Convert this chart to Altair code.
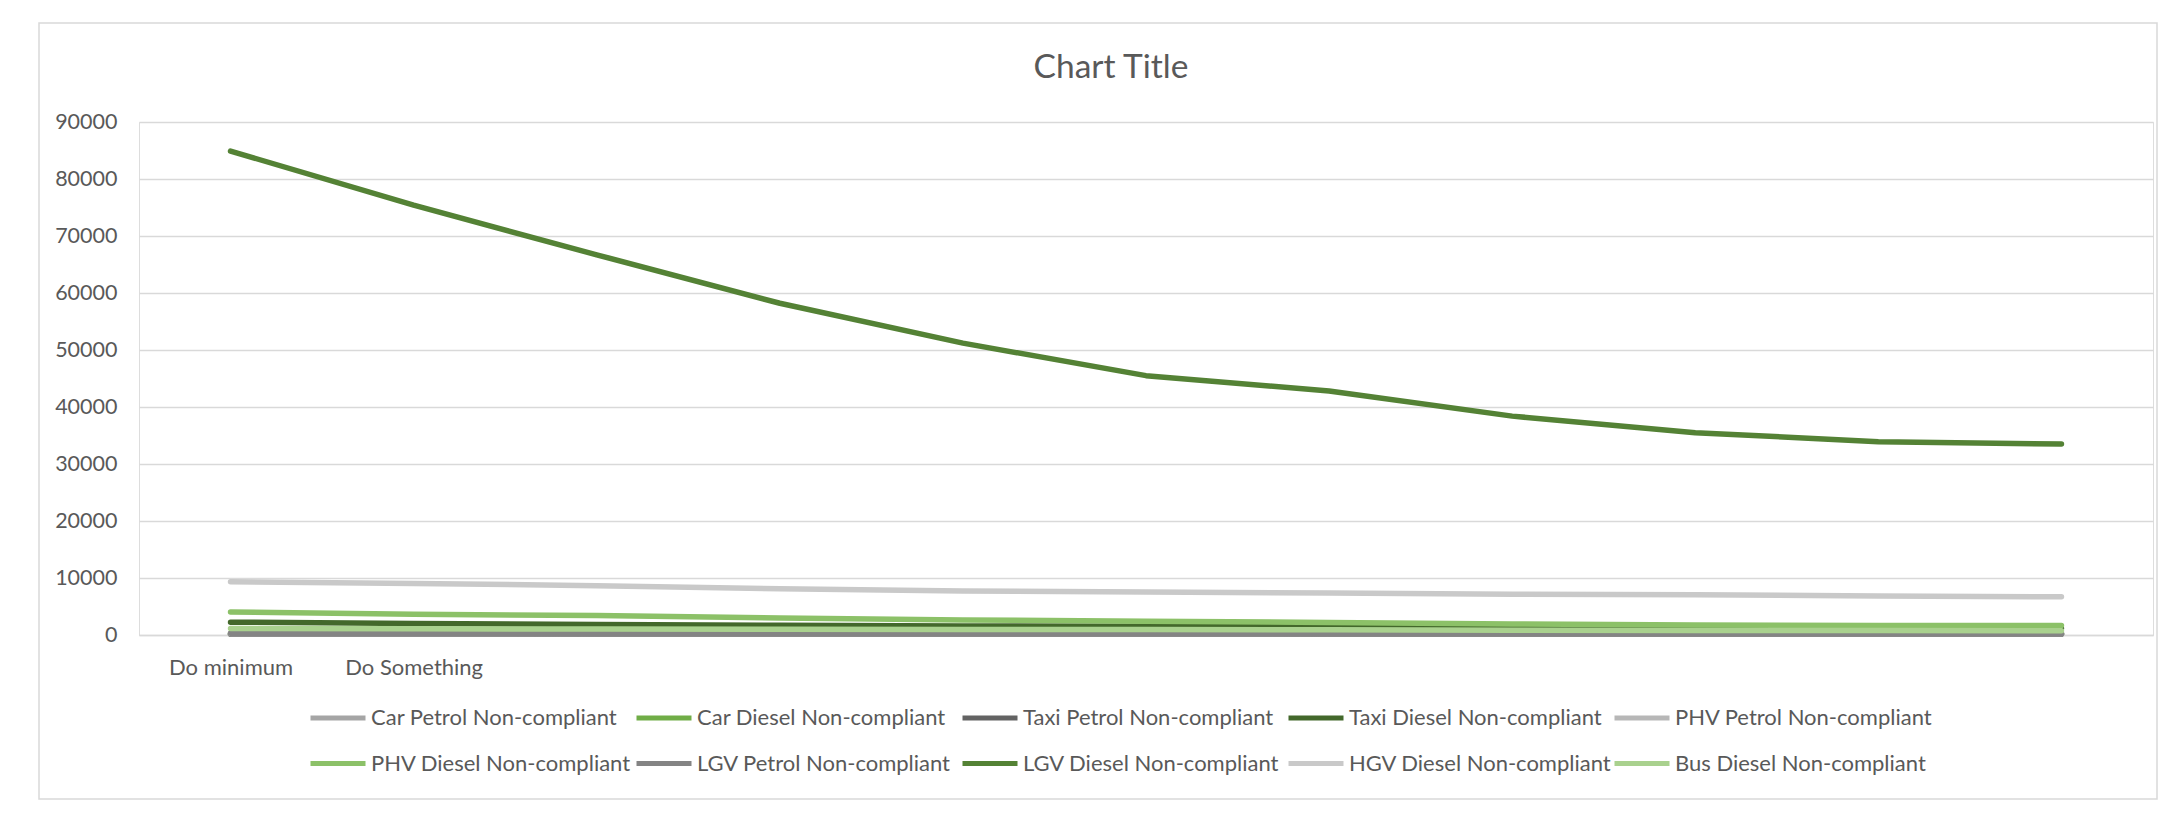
import altair as alt
import pandas as pd

categories = ["Do minimum", "Do Something", "c3", "c4", "c5", "c6", "c7", "c8", "c9", "c10", "c11"]
shown_labels = ["Do minimum", "Do Something"]

series_names = [
    "Car Petrol Non-compliant",
    "Car Diesel Non-compliant",
    "Taxi Petrol Non-compliant",
    "Taxi Diesel Non-compliant",
    "PHV Petrol Non-compliant",
    "PHV Diesel Non-compliant",
    "LGV Petrol Non-compliant",
    "LGV Diesel Non-compliant",
    "HGV Diesel Non-compliant",
    "Bus Diesel Non-compliant",
]
series_colors = [
    "#A5A5A5", "#70AD47", "#636363", "#43682B", "#B7B7B7",
    "#8CC168", "#848484", "#548235", "#C9C9C9", "#A9D18E",
]

car_petrol = [200, 200, 200, 200, 200, 200, 200, 200, 200, 200, 200]
car_diesel = [200, 200, 200, 200, 200, 200, 200, 200, 200, 200, 200]
taxi_petrol = [150, 150, 150, 150, 150, 150, 150, 150, 150, 150, 150]
taxi_diesel = [2250, 2000, 1850, 1700, 1600, 1550, 1450, 1350, 1250, 1200, 1150]
phv_petrol = [200, 200, 200, 200, 200, 200, 200, 200, 200, 200, 200]
phv_diesel = [4050, 3650, 3400, 3000, 2650, 2400, 2200, 1950, 1750, 1650, 1650]
lgv_petrol = [300, 300, 280, 270, 260, 250, 240, 230, 220, 210, 200]
lgv_diesel = [84900, 75400, 66700, 58200, 51200, 45500, 42800, 38400, 35500, 33900, 33500]
hgv_diesel = [9350, 9050, 8650, 8100, 7700, 7550, 7350, 7150, 7050, 6850, 6700]
bus_diesel = [1150, 1100, 1050, 1000, 950, 950, 900, 850, 800, 800, 750]

all_series = [car_petrol, car_diesel, taxi_petrol, taxi_diesel, phv_petrol,
              phv_diesel, lgv_petrol, lgv_diesel, hgv_diesel, bus_diesel]

rows = []
for s_idx, (name, vals) in enumerate(zip(series_names, all_series)):
    for c, v in zip(categories, vals):
        rows.append({"series": name, "category": c, "value": v, "sidx": s_idx})
df = pd.DataFrame(rows)

FONT = "Lato"
TXT = "#595959"
GRID = "#D9D9D9"

label_expr = "indexof(" + str(shown_labels) + ", datum.value) >= 0 ? datum.label : ''"

lines = alt.Chart(df).mark_line(strokeWidth=5.5, strokeCap="round", strokeJoin="round").encode(
    x=alt.X(
        "category:N",
        sort=categories,
        scale=alt.Scale(type="point", padding=0.5),
        axis=alt.Axis(
            title=None, labelExpr=label_expr, labelAngle=0, ticks=False,
            domainColor=GRID, domainWidth=1.5, labelPadding=22,
            labelFontSize=22, labelFont=FONT, labelColor=TXT, grid=False,
        ),
    ),
    y=alt.Y(
        "value:Q",
        scale=alt.Scale(domain=[0, 90000], nice=False),
        axis=alt.Axis(
            title=None, values=list(range(0, 90001, 10000)), ticks=False, domain=False,
            labelPadding=22, labelFontSize=21.5, labelFont=FONT, labelColor=TXT,
            gridColor=GRID, gridWidth=1.5, format="d",
        ),
    ),
    color=alt.Color(
        "series:N",
        sort=series_names,
        scale=alt.Scale(domain=series_names, range=series_colors),
        legend=alt.Legend(
            title=None, orient="none", legendX=169, legendY=566, columns=5,
            direction="horizontal",
            symbolType="stroke", symbolSize=3025, symbolStrokeWidth=5,
            labelFontSize=22, labelFont=FONT, labelColor=TXT, labelOffset=3,
            columnPadding=-10, rowPadding=4.5, gridAlign="all", labelLimit=0, padding=0,
        ),
    ),
    order=alt.Order("sidx:Q"),
)

frame = alt.Chart(pd.DataFrame({"a": [0]})).mark_rect(
    filled=False, stroke=GRID, strokeWidth=1.5
).encode(
    x=alt.value(-100), x2=alt.value(2018), y=alt.value(-99), y2=alt.value(677)
)

chart = alt.layer(frame, lines).properties(
    width=2014,
    height=513,
    title=alt.TitleParams(
        text="Chart Title", fontSize=33.5, font=FONT, color=TXT, fontWeight="normal",
        anchor="middle", frame="group", dx=-35, offset=0, dy=89, baseline="alphabetic",
    ),
    autosize=alt.AutoSizeParams(type="none"),
    padding={"left": 131, "top": 114, "right": 6, "bottom": 168},
).configure_view(stroke=None).configure(background="white")

chart.save("out.html", embed_options={"renderer": "svg", "actions": False})
